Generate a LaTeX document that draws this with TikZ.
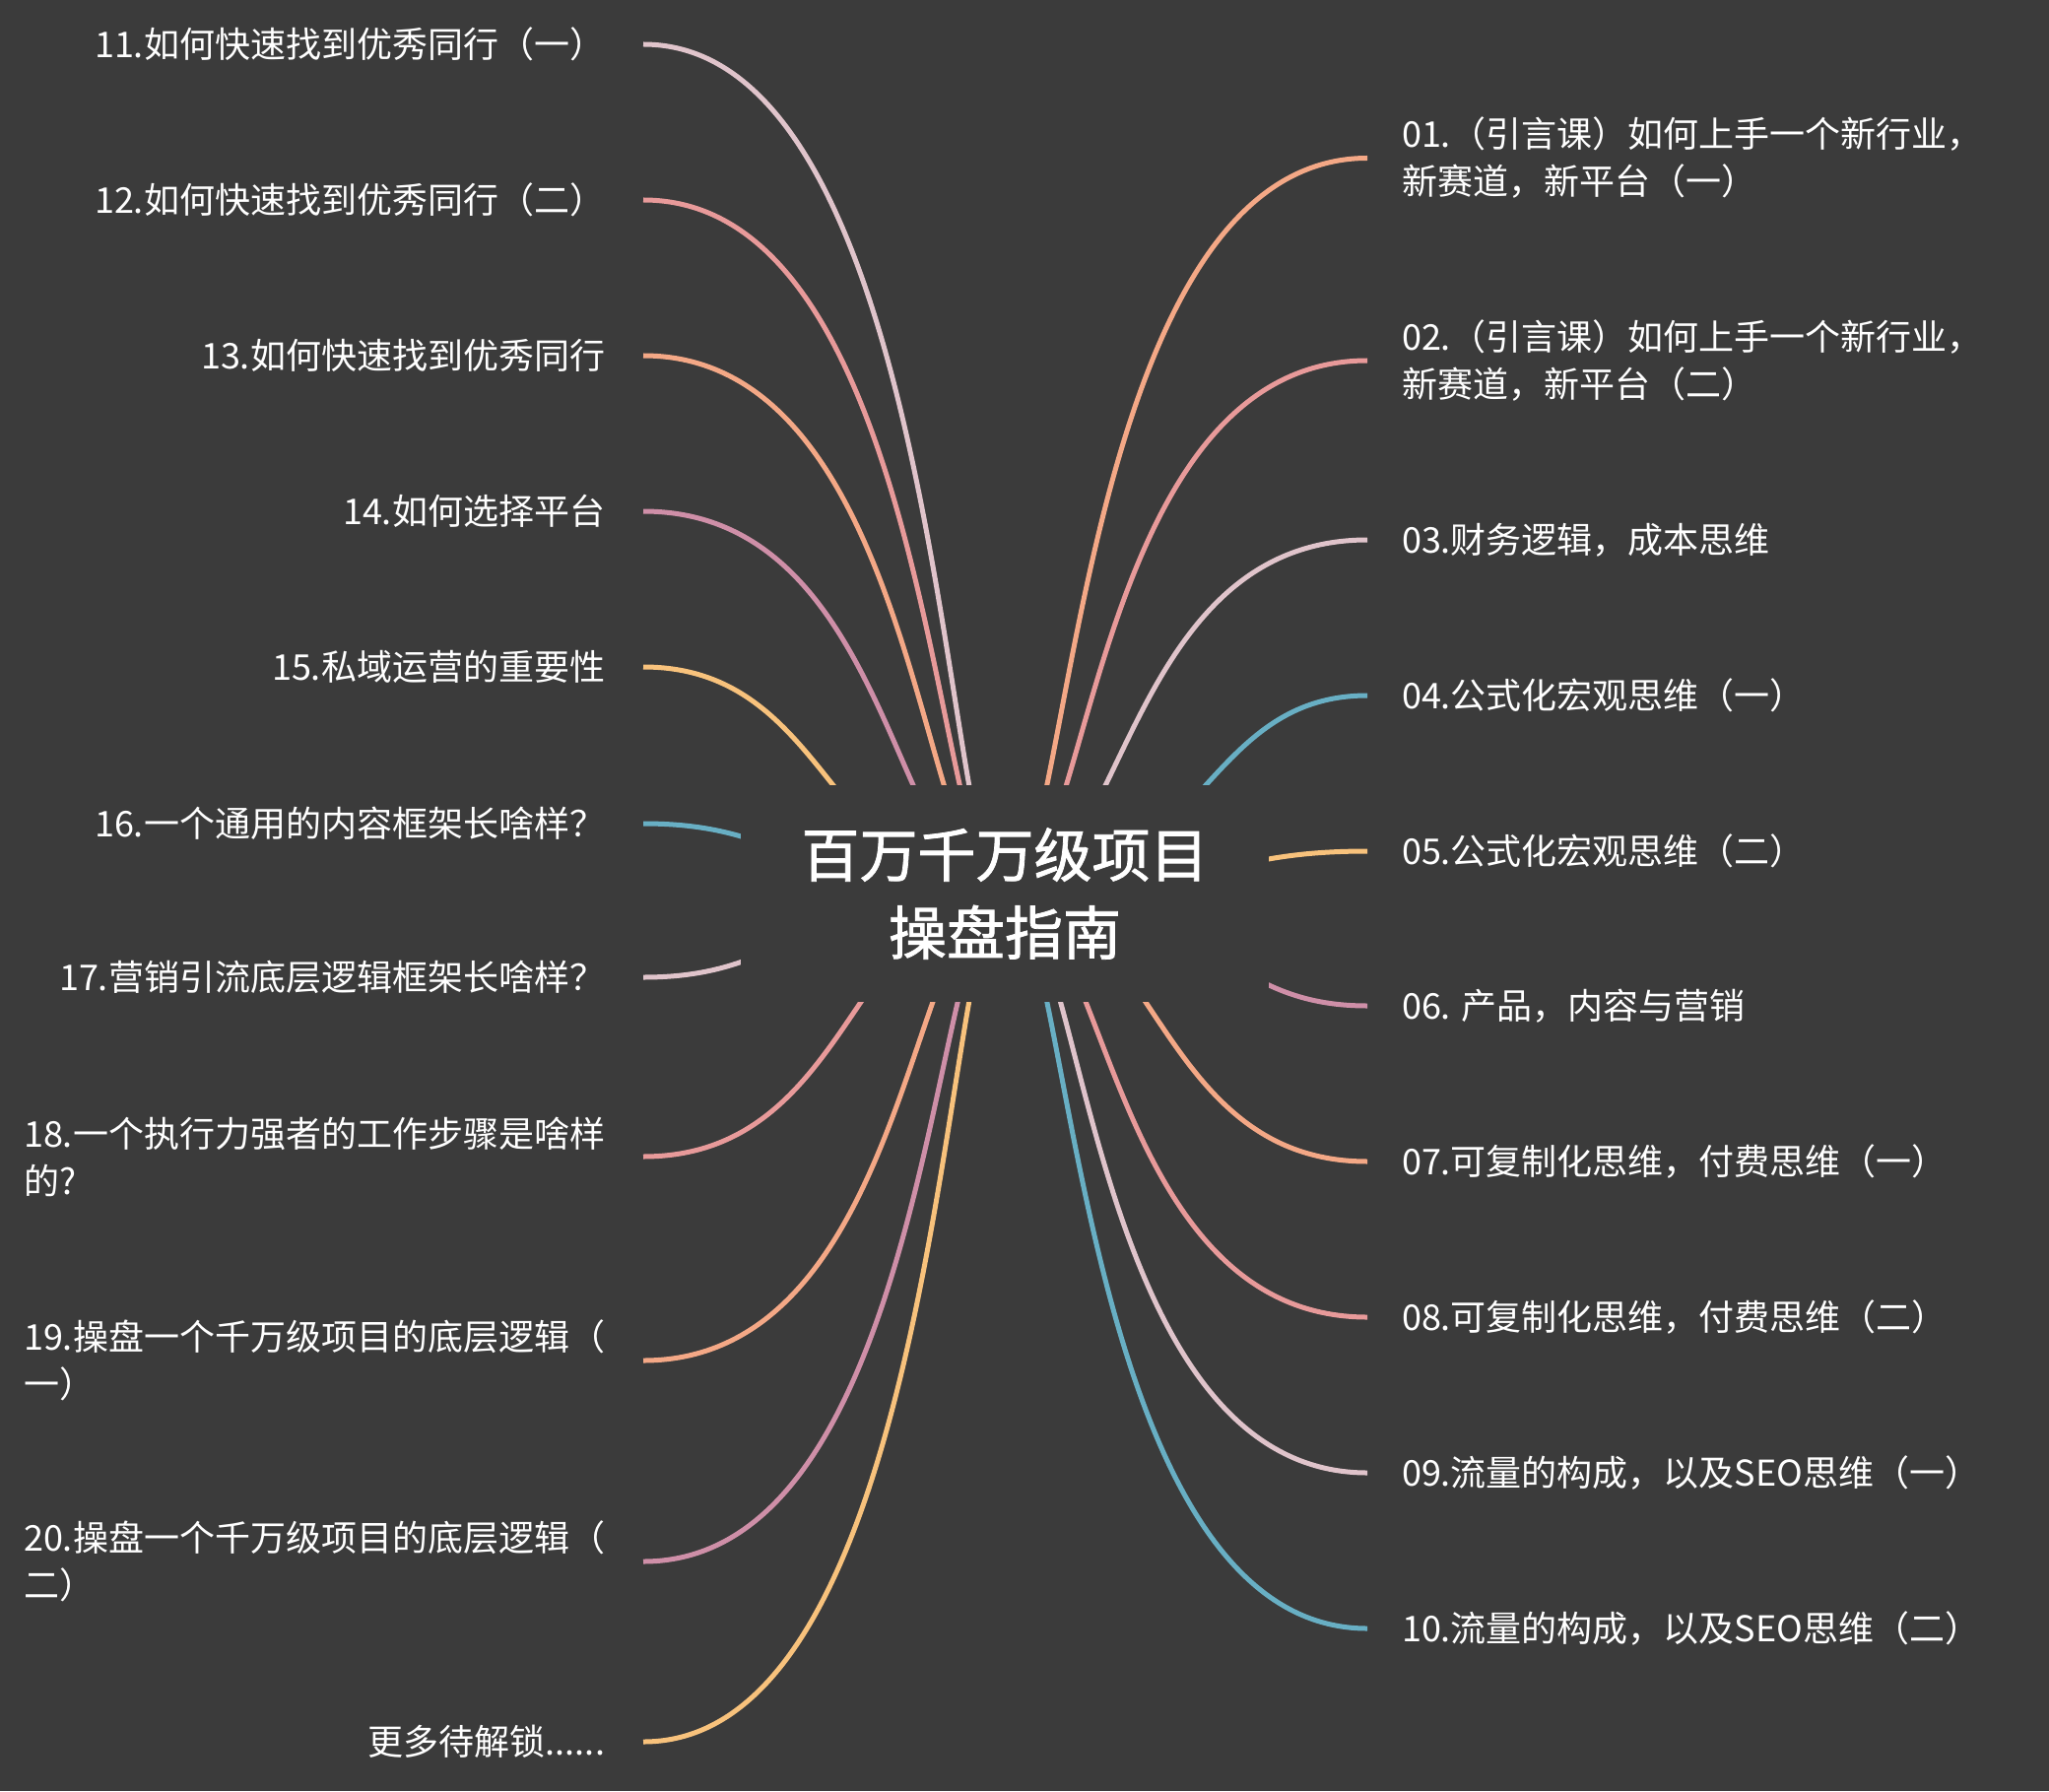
\documentclass[tikz,border=0pt]{standalone}
\usepackage{fontspec}
\setmainfont{Noto Sans CJK SC}
\newfontfamily\titlefont[FakeBold=1.3]{Noto Sans CJK SC}
\definecolor{bg}{HTML}{3B3B3B}
\definecolor{cpink}{HTML}{E0C4CB}
\definecolor{csalmon}{HTML}{E89A9A}
\definecolor{cpeach}{HTML}{F4A886}
\definecolor{cmauve}{HTML}{CF8FA8}
\definecolor{cyellow}{HTML}{F8C27C}
\definecolor{cteal}{HTML}{68AFC4}
\tikzset{
  lbl/.style={text=white, font=\fontsize{18pt}{24pt}\selectfont, inner sep=0pt},
  leftlbl/.style={lbl, anchor=east, align=left, outer xsep=19.5pt},
  rightlbl/.style={lbl, anchor=west, align=left, outer xsep=17.5pt},
  branch/.style={line width=2.5pt},
  hub/.style={fill=bg, minimum width=268pt, minimum height=110pt, inner sep=0pt,
    text=white, align=center, font=\titlefont\fontsize{29.5pt}{39.5pt}\selectfont}
}
\newcommand\branchL[3]{%
  \pgfmathsetmacro\hh{min(20+100*(360/abs(#3-907)),0.58*367)}%
  \draw[branch,#2] (c) .. controls (1020-\hh,907) and (1020-\hh,#3) .. (#1.east);}
\newcommand\branchR[3]{%
  \pgfmathsetmacro\hh{min(20+100*(360/abs(#3-907)),0.58*368)}%
  \draw[branch,#2] (c) .. controls (1020+\hh,907) and (1020+\hh,#3) .. (#1.west);}
\begin{document}
\begin{tikzpicture}[x=0.5pt,y=-0.5pt]
\fill[bg] (0,0) rectangle (2080,1818);
\useasboundingbox (0,0) rectangle (2080,1818);
\coordinate (c) at (1020,907);
% left labels
\node[leftlbl] (n11) at (653,45) {11.如何快速找到优秀同行（一）};
\node[leftlbl] (n12) at (653,203) {12.如何快速找到优秀同行（二）};
\node[leftlbl] (n13) at (653,361) {13.如何快速找到优秀同行};
\node[leftlbl] (n14) at (653,519) {14.如何选择平台};
\node[leftlbl] (n15) at (653,677) {15.私域运营的重要性};
\node[leftlbl] (n16) at (653,836) {16.一个通用的内容框架长啥样？};
\node[leftlbl] (n17) at (653,992) {17.营销引流底层逻辑框架长啥样？};
\node[leftlbl] (n18) at (653,1174) {18.一个执行力强者的工作步骤是啥样\\的?};
\node[leftlbl] (n19) at (653,1381) {19.操盘一个千万级项目的底层逻辑（\\一）};
\node[leftlbl] (n20) at (653,1585) {20.操盘一个千万级项目的底层逻辑（\\二）};
\node[leftlbl] (n21) at (653,1768) {更多待解锁......};
% right labels
\node[rightlbl] (n01) at (1388,160.5) {01.（引言课）如何上手一个新行业，\\新赛道，新平台（一）};
\node[rightlbl] (n02) at (1388,366) {02.（引言课）如何上手一个新行业，\\新赛道，新平台（二）};
\node[rightlbl] (n03) at (1388,548) {03.财务逻辑，成本思维};
\node[rightlbl] (n04) at (1388,706) {04.公式化宏观思维（一）};
\node[rightlbl] (n05) at (1388,864) {05.公式化宏观思维（二）};
\node[rightlbl] (n06) at (1388,1021) {06. 产品，内容与营销};
\node[rightlbl] (n07) at (1388,1179) {07.可复制化思维，付费思维（一）};
\node[rightlbl] (n08) at (1388,1337) {08.可复制化思维，付费思维（二）};
\node[rightlbl] (n09) at (1388,1495) {09.流量的构成，以及SEO思维（一）};
\node[rightlbl] (n10) at (1388,1653) {10.流量的构成，以及SEO思维（二）};
% branches
\branchL{n11}{cpink}{45}
\branchL{n12}{csalmon}{203}
\branchL{n13}{cpeach}{361}
\branchL{n14}{cmauve}{519}
\branchL{n15}{cyellow}{677}
\branchL{n16}{cteal}{836}
\branchL{n17}{cpink}{992}
\branchL{n18}{csalmon}{1174}
\branchL{n19}{cpeach}{1381}
\branchL{n20}{cmauve}{1585}
\branchL{n21}{cyellow}{1768}
\branchR{n01}{cpeach}{160.5}
\branchR{n02}{csalmon}{366}
\branchR{n03}{cpink}{548}
\branchR{n04}{cteal}{706}
\branchR{n05}{cyellow}{864}
\branchR{n06}{cmauve}{1021}
\branchR{n07}{cpeach}{1179}
\branchR{n08}{csalmon}{1337}
\branchR{n09}{cpink}{1495}
\branchR{n10}{cteal}{1653}
% central topic
\node[hub] (hub) at (c) {百万千万级项目\\操盘指南};
\end{tikzpicture}
\end{document}
